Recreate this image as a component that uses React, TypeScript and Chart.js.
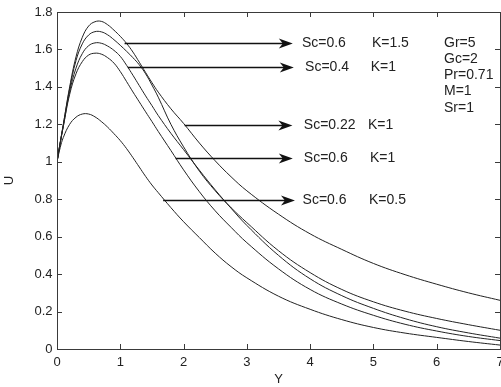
import React, { useEffect, useRef } from "react";
import { Chart, registerables } from "chart.js";

Chart.register(...registerables);

// ---- data ----
const xValues = [0, 0.05, 0.1, 0.2, 0.3, 0.4, 0.5, 0.6, 0.7, 0.8, 0.9, 1.0, 1.1, 1.2, 1.3, 1.4, 1.5, 1.6, 1.8, 2.0, 2.25, 2.5, 2.75, 3.0, 3.5, 4.0, 4.5, 5.0, 5.5, 6.0, 6.5, 7.0];

const curveA = [1.0, 1.10, 1.20, 1.40, 1.56, 1.665, 1.725, 1.748, 1.75, 1.732, 1.703, 1.67, 1.632, 1.586, 1.532, 1.477, 1.423, 1.372, 1.283, 1.205, 1.10, 1.005, 0.92, 0.845, 0.72, 0.615, 0.532, 0.457, 0.397, 0.346, 0.30, 0.26];
const curveB = [1.0, 1.10, 1.20, 1.39, 1.54, 1.63, 1.677, 1.695, 1.694, 1.678, 1.652, 1.622, 1.59, 1.556, 1.518, 1.47, 1.41, 1.345, 1.20, 1.08, 0.95, 0.845, 0.755, 0.675, 0.525, 0.408, 0.318, 0.252, 0.202, 0.163, 0.13, 0.10];
const curveC = [1.0, 1.10, 1.19, 1.375, 1.50, 1.578, 1.62, 1.635, 1.633, 1.618, 1.595, 1.563, 1.515, 1.462, 1.407, 1.352, 1.30, 1.247, 1.152, 1.065, 0.955, 0.85, 0.752, 0.66, 0.50, 0.375, 0.285, 0.217, 0.162, 0.119, 0.086, 0.058];
const curveD = [1.0, 1.10, 1.19, 1.36, 1.47, 1.535, 1.57, 1.58, 1.575, 1.556, 1.527, 1.482, 1.428, 1.373, 1.32, 1.267, 1.215, 1.162, 1.06, 0.957, 0.84, 0.738, 0.65, 0.568, 0.428, 0.318, 0.24, 0.18, 0.132, 0.096, 0.067, 0.045];
const curveE = [1.0, 1.075, 1.13, 1.20, 1.238, 1.255, 1.255, 1.24, 1.215, 1.185, 1.15, 1.113, 1.07, 1.022, 0.972, 0.922, 0.876, 0.835, 0.755, 0.68, 0.595, 0.512, 0.44, 0.38, 0.282, 0.212, 0.157, 0.115, 0.085, 0.062, 0.04, 0.021];

const seriesList = [curveA, curveB, curveC, curveD, curveE];

const xTicks = [0, 1, 2, 3, 4, 5, 6, 7];
const yTicks = [0, 0.2, 0.4, 0.6, 0.8, 1, 1.2, 1.4, 1.6, 1.8];

// annotation arrows (data units): start x, level y, tip x
const arrowStartX = [1.068, 1.12, 2.018, 1.875, 1.677];
const arrowLevelY = [1.637, 1.504, 1.198, 1.019, 0.797];
const arrowTipX = [3.726, 3.742, 3.72, 3.726, 3.76];
const scLabels = ["Sc=0.6", "Sc=0.4", "Sc=0.22", "Sc=0.6", "Sc=0.6"];
const kLabels = ["K=1.5", "K=1", "K=1", "K=1", "K=0.5"];
const scLabelX = [3.87, 3.92, 3.9, 3.9, 3.88];
const kLabelX = [4.976, 4.956, 4.913, 4.945, 4.93];

const paramLabels = ["Gr=5", "Gc=2", "Pr=0.71", "M=1", "Sr=1"];

const FONT = "'Liberation Sans', Arial, Helvetica, sans-serif";

const decorPlugin = {
  id: "decor",
  afterDraw(chart: any) {
    const { ctx, chartArea } = chart;
    const xs = chart.scales.x;
    const ys = chart.scales.y;
    const { left, right, top, bottom } = chartArea;
    ctx.save();
    // frame
    ctx.strokeStyle = "#3a3a3a";
    ctx.lineWidth = 1;
    ctx.strokeRect(Math.round(left) + 0.5, Math.round(top) + 0.5, Math.round(right - left), Math.round(bottom - top));
    // inward ticks
    const tl = 5;
    ctx.beginPath();
    xTicks.forEach((v) => {
      const px = Math.round(xs.getPixelForValue(v)) + 0.5;
      ctx.moveTo(px, bottom);
      ctx.lineTo(px, bottom - tl);
      ctx.moveTo(px, top);
      ctx.lineTo(px, top + tl);
    });
    yTicks.forEach((v) => {
      const py = Math.round(ys.getPixelForValue(v)) + 0.5;
      ctx.moveTo(left, py);
      ctx.lineTo(left + tl, py);
      ctx.moveTo(right, py);
      ctx.lineTo(right - tl, py);
    });
    ctx.stroke();

    // arrows
    ctx.strokeStyle = "#111";
    ctx.fillStyle = "#111";
    ctx.lineWidth = 1.3;
    for (let i = 0; i < arrowLevelY.length; i++) {
      const y = Math.round(ys.getPixelForValue(arrowLevelY[i])) + 0.5;
      const x0 = xs.getPixelForValue(arrowStartX[i]);
      const tip = xs.getPixelForValue(arrowTipX[i]);
      ctx.beginPath();
      ctx.moveTo(x0, y);
      ctx.lineTo(tip - 9, y);
      ctx.stroke();
      ctx.beginPath();
      ctx.moveTo(tip, y);
      ctx.lineTo(tip - 14, y - 5);
      ctx.lineTo(tip - 10, y);
      ctx.lineTo(tip - 14, y + 5);
      ctx.closePath();
      ctx.fill();
      ctx.font = `14px ${FONT}`;
      ctx.textBaseline = "middle";
      ctx.textAlign = "left";
      ctx.fillStyle = "#222";
      ctx.fillText(scLabels[i], xs.getPixelForValue(scLabelX[i]), y);
      ctx.fillText(kLabels[i], xs.getPixelForValue(kLabelX[i]), y);
      ctx.fillStyle = "#111";
    }

    // parameter block
    ctx.font = `14px ${FONT}`;
    ctx.fillStyle = "#222";
    ctx.textAlign = "left";
    ctx.textBaseline = "middle";
    paramLabels.forEach((t, i) => {
      ctx.fillText(t, 444, 43 + i * 16.2);
    });
    ctx.restore();
  },
};

export default function App() {
  const ref = useRef<HTMLCanvasElement | null>(null);
  useEffect(() => {
    if (!ref.current) return;
    const tickFont = { family: FONT, size: 13 };
    const chart = new Chart(ref.current, {
      type: "line",
      data: {
        datasets: seriesList.map((s, k) => ({
          label: "c" + k,
          data: xValues.map((x, i) => ({ x, y: s[i] })),
          borderColor: "#222",
          borderWidth: 1,
          pointRadius: 0,
          fill: false,
          tension: 0.4,
        })),
      },
      options: {
        responsive: false,
        animation: false,
        layout: { padding: { left: 0, right: 1, top: 12, bottom: 0 } },
        plugins: { legend: { display: false }, tooltip: { enabled: false } },
        scales: {
          x: {
            type: "linear",
            min: 0,
            max: 7,
            afterBuildTicks: (s: any) => {
              s.ticks = xTicks.map((v) => ({ value: v }));
            },
            ticks: { font: tickFont, color: "#222", padding: 6, maxRotation: 0, autoSkip: false, callback: (v: any) => String(v) },
            grid: { display: false, drawTicks: false },
            border: { display: false },
            title: { display: true, text: "Y", font: { family: FONT, size: 13 }, color: "#222", padding: { top: 0, bottom: 0 } },
            afterFit: (s: any) => {
              s.height = 38;
              s.paddingLeft = 0;
              s.paddingRight = 0;
            },
          },
          y: {
            type: "linear",
            min: 0,
            max: 1.8,
            afterBuildTicks: (s: any) => {
              s.ticks = yTicks.map((v) => ({ value: v }));
            },
            ticks: { font: tickFont, color: "#222", padding: 4.5, callback: (v: any) => String(Math.round(Number(v) * 10) / 10) },
            grid: { display: false, drawTicks: false },
            border: { display: false },
            title: { display: true, text: "U", font: { family: FONT, size: 13 }, color: "#222", padding: { top: 2, bottom: 0 } },
            afterFit: (s: any) => {
              s.width = 57;
              s.paddingTop = 0;
              s.paddingBottom = 0;
            },
          },
        },
      },
      plugins: [decorPlugin],
    });
    return () => chart.destroy();
  }, []);
  return (
    <div style={{ position: "absolute", left: 0, top: 0, width: 501, height: 387, background: "#fff" }}>
      <canvas ref={ref} width={501} height={387} style={{ width: 501, height: 387, display: "block" }} />
    </div>
  );
}
